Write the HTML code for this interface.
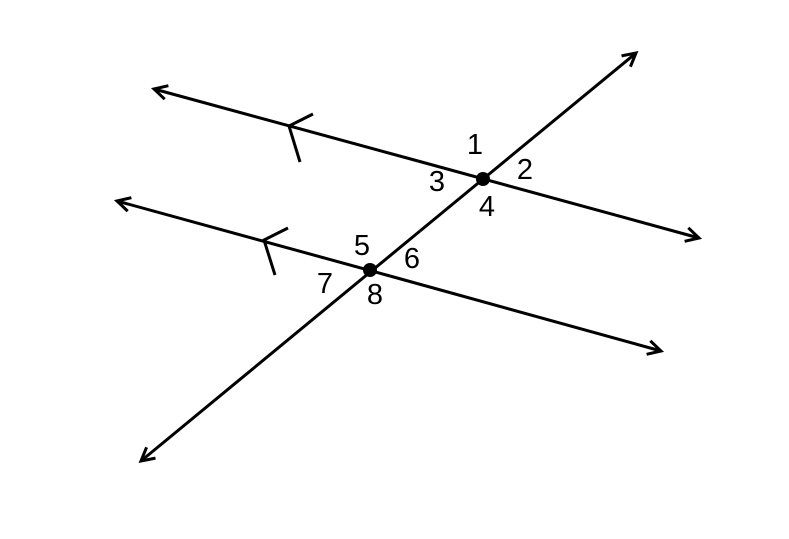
<!DOCTYPE html>
<html><head><meta charset="utf-8"><style>
html,body{margin:0;padding:0;background:#fff;}
svg{display:block}
text{font-family:"Liberation Sans",sans-serif;font-size:29px;fill:#000;text-anchor:middle;dominant-baseline:central}
</style></head><body>
<svg width="789" height="539" viewBox="0 0 789 539">
<defs>
<marker id="a" markerWidth="20" markerHeight="20" refX="14" refY="10" orient="auto" markerUnits="userSpaceOnUse">
<path d="M1,3 L14,10 L1,17" fill="none" stroke="#000" stroke-width="3"/>
</marker>
</defs>
<g stroke="#000" stroke-width="3" fill="none">
<line x1="418" y1="161" x2="154" y2="89" marker-end="url(#a)"/>
<line x1="418" y1="161" x2="699" y2="238" marker-end="url(#a)"/>
<line x1="390" y1="276" x2="117" y2="201" marker-end="url(#a)"/>
<line x1="390" y1="276" x2="661" y2="351" marker-end="url(#a)"/>
<line x1="420" y1="231" x2="636" y2="53" marker-end="url(#a)"/>
<line x1="420" y1="231" x2="141" y2="461" marker-end="url(#a)"/>
<polyline points="313,114 289,126 300,162"/>
<polyline points="288,228 264,240 275,275"/>
</g>
<circle cx="483" cy="179" r="7" fill="#000"/>
<circle cx="370" cy="270" r="7" fill="#000"/>
<text x="475" y="145">1</text>
<text x="525" y="170">2</text>
<text x="437" y="182">3</text>
<text x="487" y="207">4</text>
<text x="362" y="246">5</text>
<text x="412" y="259">6</text>
<text x="325" y="284">7</text>
<text x="375" y="295">8</text>
</svg>
</body></html>
